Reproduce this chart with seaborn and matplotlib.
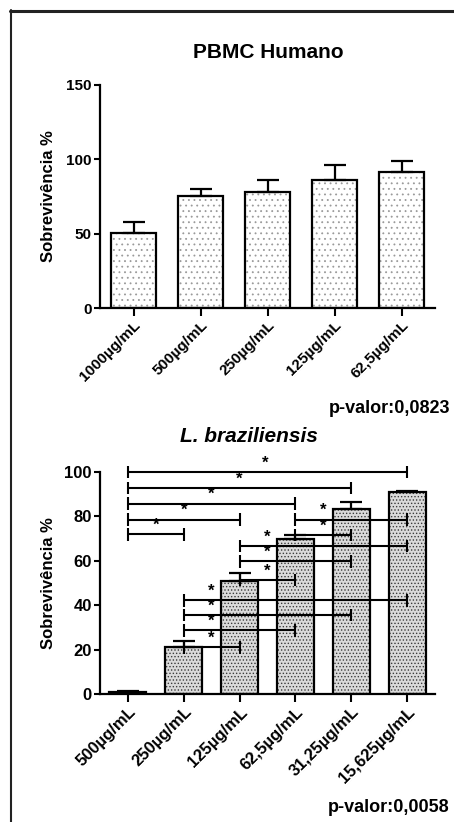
import matplotlib
matplotlib.use("Agg")
import matplotlib.pyplot as plt
from matplotlib.lines import Line2D
from matplotlib.patches import Rectangle
import seaborn as sns
import pandas as pd

# ---- data ----
pbmc_labels = ["1000µg/mL", "500µg/mL", "250µg/mL", "125µg/mL", "62,5µg/mL"]
pbmc_values = [50.5, 75.5, 78, 86, 91.5]
pbmc_err = [7.5, 4.5, 8, 10, 7.5]

lb_labels = ["500µg/mL", "250µg/mL", "125µg/mL", "62,5µg/mL", "31,25µg/mL", "15,625µg/mL"]
lb_values = [0.8, 21, 51, 69.8, 83.2, 90.8]
lb_err = [0.4, 3, 3.3, 1.8, 3.5, 0.5]

br_start = [0, 0, 0, 0, 0, 3, 3, 2, 2, 2, 1, 1, 1, 1]
br_end = [5, 4, 3, 2, 1, 5, 4, 5, 4, 3, 5, 4, 3, 2]
br_height = [100, 92.8, 85.8, 78.6, 71.9, 78.6, 71.5, 66.6, 59.7, 51.3, 42.2, 35.6, 28.7, 21]
br_star_x = [2.45, 2.0, 1.5, 1.0, 0.5, 3.5, 3.5, 2.5, 2.5, 2.5, 1.5, 1.5, 1.5, 1.5]

pbmc_p = "p-valor:0,0823"
lb_p = "p-valor:0,0058"

sns.set_theme(style="ticks")
plt.rcParams["font.family"] = ["Liberation Sans", "DejaVu Sans"]
plt.rcParams["font.weight"] = "bold"
plt.rcParams["hatch.linewidth"] = 0.6
for k in ("text.color", "axes.labelcolor", "xtick.color", "ytick.color", "axes.edgecolor"):
    plt.rcParams[k] = "black"

W, H = 454, 822
fig = plt.figure(figsize=(W / 100, H / 100), dpi=100)


def px_axes(l, t, r, b):
    return fig.add_axes([l / W, 1 - b / H, (r - l) / W, (b - t) / H])


def style_axes(ax, xlabels, fs):
    sns.despine(ax=ax)
    for s in ("left", "bottom"):
        ax.spines[s].set_linewidth(1.6)
        ax.spines[s].set_color("black")
    ax.tick_params(axis="y", length=4, width=1.5, color="black", labelsize=fs, pad=2)
    ax.tick_params(axis="x", length=5.5, width=1.5, color="black", labelsize=fs, pad=2)
    ax.set_xticks(range(len(xlabels)))
    ax.set_xticklabels(xlabels, rotation=45, ha="right", rotation_mode="anchor",
                       fontweight="bold")
    for t in ax.get_yticklabels():
        t.set_fontweight("bold")
    ax.set_xlabel("")
    ax.set_ylabel("Sobrevivência %", fontsize=12, fontweight="bold")
    ax.yaxis.set_label_coords(-0.13, 0.5)
    ax.set_facecolor("white")


def restyle_bars(ax, face, hatch, hatch_color):
    for p in list(ax.patches):
        x, y, w, h = p.get_x(), p.get_y(), p.get_width(), p.get_height()
        p.set_facecolor(face)
        p.set_hatch(hatch)
        p.set_edgecolor(hatch_color)
        p.set_linewidth(0)
        ax.add_patch(Rectangle((x, y), w, h, facecolor="none", edgecolor="black",
                               linewidth=1.6, zorder=p.get_zorder() + 0.1))


# ---- top chart ----
ax1 = px_axes(100, 85, 435, 308)
df1 = pd.DataFrame({"conc": pbmc_labels, "val": pbmc_values})
sns.barplot(data=df1, x="conc", y="val", ax=ax1, width=0.66, color="white",
            edgecolor="black", linewidth=1.6, errorbar=None, saturation=1)
restyle_bars(ax1, "white", "...", "#9a9a9a")
ax1.errorbar(range(len(pbmc_values)), pbmc_values, yerr=[[0] * len(pbmc_err), pbmc_err],
             fmt="none", ecolor="black", elinewidth=1.6, capsize=8, capthick=1.6, zorder=3)
ax1.set_xlim(-0.5, 4.5)
ax1.set_ylim(0, 150)
ax1.set_yticks([0, 50, 100, 150])
style_axes(ax1, pbmc_labels, 11)

# ---- bottom chart ----
ax2 = px_axes(100, 472, 435, 694)
df2 = pd.DataFrame({"conc": lb_labels, "val": lb_values})
sns.barplot(data=df2, x="conc", y="val", ax=ax2, width=0.66, color="#dcdcdc",
            edgecolor="black", linewidth=1.6, errorbar=None, saturation=1)
restyle_bars(ax2, "#dadada", ".....", "#3a3a3a")
ax2.errorbar(range(len(lb_values)), lb_values, yerr=[[0] * len(lb_err), lb_err],
             fmt="none", ecolor="black", elinewidth=1.6, capsize=8, capthick=1.6, zorder=3)
ax2.set_xlim(-0.5, 5.5)
ax2.set_ylim(0, 100)
ax2.set_yticks([0, 20, 40, 60, 80, 100])
style_axes(ax2, lb_labels, 12)

cap = 2.8
for s, e, h, sx in zip(br_start, br_end, br_height, br_star_x):
    ax2.plot([s, e], [h, h], color="black", lw=1.5, clip_on=False, zorder=4,
             solid_capstyle="butt")
    for xx in (s, e):
        ax2.plot([xx, xx], [h - cap, h + cap], color="black", lw=1.5, clip_on=False,
                 zorder=4, solid_capstyle="butt")
    ax2.text(sx, h + 0.6, "*", ha="center", va="bottom", fontsize=12,
             fontweight="bold", clip_on=False, zorder=5)

# ---- texts ----
fig.text(268 / W, 1 - 52 / H, "PBMC Humano", ha="center", va="center",
         fontsize=15, fontweight="bold")
fig.text(249 / W, 1 - 436 / H, "L. braziliensis", ha="center", va="center",
         fontsize=15, fontweight="bold", fontstyle="italic")
fig.text(450 / W, 1 - 408 / H, pbmc_p, ha="right", va="center", fontsize=13,
         fontweight="bold")
fig.text(449 / W, 1 - 807 / H, lb_p, ha="right", va="center", fontsize=13,
         fontweight="bold")

# ---- border ----
fig.add_artist(Line2D([10 / W, 1.0], [1 - 11 / H, 1 - 11 / H], transform=fig.transFigure,
                      color="#222222", lw=2.2))
fig.add_artist(Line2D([10.5 / W, 10.5 / W], [1 - 10 / H, 0.0], transform=fig.transFigure,
                      color="#222222", lw=1.5))

fig.savefig("out.png", dpi=100, facecolor="white")
